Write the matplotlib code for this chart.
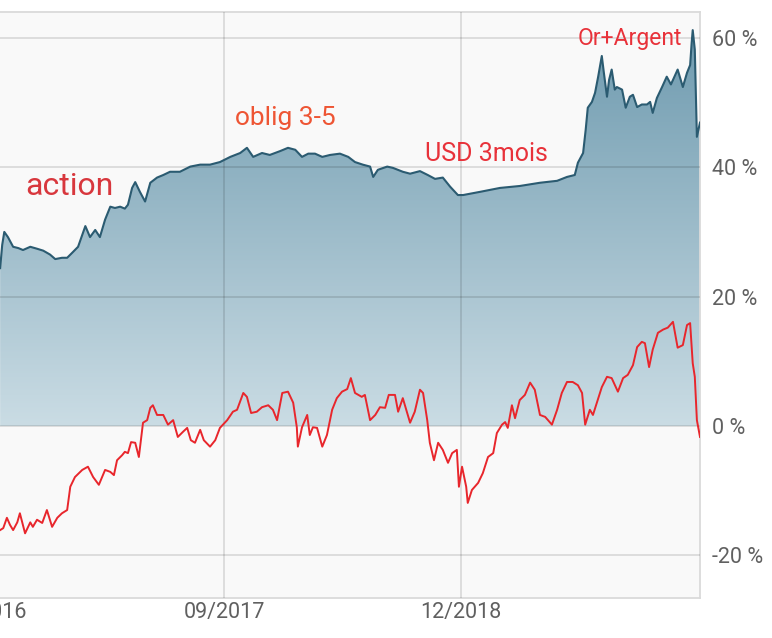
import numpy as np
import pandas as pd
import matplotlib
matplotlib.use("Agg")
import matplotlib.pyplot as plt
import matplotlib.dates as mdates
from matplotlib.colors import LinearSegmentedColormap

plt.rcParams["font.family"] = ["Roboto", "DejaVu Sans"]

# observation dates are given as days after the first point
start = pd.Timestamp("2016-06-27")

# portfolio (blue area), % performance
blue_day = [0, 4, 8, 15, 25, 35, 44, 58, 71, 83, 96, 106, 119, 129, 139, 150,
            164, 173, 183, 192, 202, 212, 221, 231, 240, 246, 254, 260, 269, 279,
            289, 302, 314, 327, 346, 366, 385, 404, 423, 443, 462, 475, 487, 504,
            519, 539, 554, 568, 581, 593, 606, 620, 635, 654, 670, 683, 698, 712,
            718, 727, 745, 756, 775, 789, 808, 823, 837, 852, 866, 881, 891, 924,
            962, 1000, 1039, 1072, 1091, 1106, 1112, 1122, 1127, 1131, 1139, 1145,
            1151, 1158, 1162, 1168, 1172, 1177, 1183, 1187, 1197, 1204, 1212, 1218,
            1226, 1235, 1245, 1251, 1256, 1264, 1274, 1283, 1291, 1295, 1304, 1314,
            1322, 1328, 1331, 1333, 1337, 1341, 1347]
blue_val = [24.4, 28.0, 30.0, 29.2, 27.7, 27.5, 27.2, 27.7, 27.4, 27.1, 26.5, 25.8,
            26.0, 26.0, 26.8, 27.7, 30.9, 29.2, 30.3, 29.2, 31.9, 33.9, 33.7, 33.9,
            33.6, 34.2, 36.8, 37.7, 36.2, 34.7, 37.6, 38.4, 38.8, 39.3, 39.3, 40.1,
            40.4, 40.4, 40.8, 41.6, 42.2, 43.0, 41.6, 42.2, 41.9, 42.5, 43.0, 42.7,
            41.6, 42.1, 42.1, 41.6, 41.9, 42.1, 41.6, 40.8, 40.4, 40.1, 38.5, 39.6,
            40.1, 39.9, 39.3, 39.0, 39.4, 38.8, 38.2, 38.4, 37.0, 35.7, 35.7, 36.2,
            36.8, 37.1, 37.6, 37.9, 38.5, 38.8, 40.7, 42.2, 45.8, 49.2, 50.1, 51.5,
            54.0, 57.2, 54.6, 50.9, 53.5, 55.1, 52.0, 52.4, 52.0, 49.2, 50.9, 51.2,
            49.3, 49.7, 49.7, 50.1, 48.4, 50.7, 52.4, 54.0, 52.8, 53.5, 55.1, 52.4,
            54.6, 55.8, 59.3, 61.2, 58.2, 44.7, 46.9]

# benchmark (red line), % performance
red_day = [0, 6, 13, 19, 25, 33, 38, 48, 58, 63, 71, 81, 90, 100, 110, 119, 129,
           135, 144, 158, 169, 179, 190, 202, 212, 219, 225, 235, 240, 246, 252,
           260, 267, 275, 283, 289, 294, 302, 314, 323, 333, 342, 352, 360, 367,
           375, 385, 392, 404, 414, 423, 437, 448, 456, 468, 475, 483, 494, 504,
           516, 525, 533, 543, 554, 564, 571, 573, 581, 591, 596, 602, 610, 620,
           629, 639, 648, 658, 668, 675, 683, 696, 702, 712, 722, 731, 741, 748,
           760, 766, 775, 789, 798, 808, 814, 822, 827, 835, 843, 852, 862, 870,
           879, 883, 889, 897, 900, 908, 920, 929, 939, 949, 956, 966, 972, 977,
           985, 991, 1000, 1010, 1020, 1029, 1039, 1049, 1062, 1072, 1081, 1091,
           1102, 1112, 1120, 1126, 1135, 1141, 1149, 1158, 1168, 1177, 1189, 1199,
           1208, 1218, 1226, 1235, 1241, 1249, 1256, 1266, 1276, 1285, 1295, 1304,
           1314, 1322, 1328, 1333, 1337, 1341, 1347]
red_val = [-16.1, -15.8, -14.2, -15.3, -16.1, -14.9, -13.5, -16.6, -14.9, -15.6,
           -14.5, -15.0, -13.0, -15.6, -14.2, -13.5, -13.0, -9.4, -7.9, -6.8, -6.3,
           -7.9, -9.1, -6.8, -7.1, -7.6, -5.3, -4.5, -4.0, -4.2, -2.5, -2.6, -4.8,
           0.5, 0.9, 2.8, 3.2, 1.7, 1.7, 0.2, 0.9, -1.7, -0.9, -0.3, -2.2, -2.6,
           -0.6, -2.2, -3.2, -2.2, -0.3, 0.9, 2.2, 2.5, 5.1, 4.5, 2.0, 2.2, 2.9,
           3.2, 2.5, 0.9, 5.1, 5.3, 3.6, -0.2, -3.2, -0.2, 1.7, -1.4, -0.2, -0.3,
           -3.2, -1.4, 2.5, 4.3, 5.3, 5.7, 7.4, 5.1, 4.5, 4.8, 0.9, 1.7, 2.9, 2.8,
           4.8, 4.8, 2.2, 4.3, 0.5, 2.2, 5.6, 5.1, 0.9, -2.6, -5.3, -2.6, -3.7,
           -5.7, -4.2, -3.7, -9.4, -6.3, -9.4, -11.9, -9.9, -8.8, -7.3, -4.8, -4.2,
           -1.1, 0.2, 0.6, -0.3, 3.2, 1.2, 4.0, 4.8, 6.7, 5.6, 1.7, 1.4, 0.2, 2.5,
           5.1, 6.8, 6.8, 6.3, 5.1, 0.2, 2.5, 1.7, 3.7, 6.0, 7.6, 7.4, 5.3, 7.4,
           7.9, 9.4, 12.2, 13.0, 12.8, 9.1, 11.8, 14.4, 14.9, 15.2, 16.1, 12.1,
           12.5, 15.6, 15.9, 9.7, 7.6, 0.9, -1.7]

x_ticks = ["2016-06-01", "2017-09-01", "2018-12-01"]
x_tick_labels = ["06/2016", "09/2017", "12/2018"]
y_ticks = [-20, 0, 20, 40, 60]
y_tick_labels = ["-20 %", "0 %", "20 %", "40 %", "60 %"]

annotations = ["action", "oblig 3-5", "USD 3mois", "Or+Argent"]

blue_dates = start + pd.to_timedelta(blue_day, unit="D")
red_dates = start + pd.to_timedelta(red_day, unit="D")

W, H = 772, 638
fig = plt.figure(figsize=(W / 100, H / 100), dpi=100)
fig.patch.set_facecolor("white")

# axes run a bit past the left edge, like the cropped screenshot
ax = fig.add_axes([-30 / W, 1 - 598 / H, 730 / W, 586 / H])
ax.set_facecolor("#f9f9f9")

x0 = start - pd.Timedelta(days=58)
x1 = start + pd.Timedelta(days=1347)
ylo, yhi = -26.6, 64.0

# gradient fill under the blue line, down to 0 %
poly = ax.fill_between(blue_dates, blue_val, 0, color="none", lw=0, zorder=1)
cmap = LinearSegmentedColormap.from_list("bl", ["#cadce4", "#6b98ad"])
grad = np.linspace(0, 1, 256).reshape(-1, 1)
im = ax.imshow(grad, cmap=cmap, origin="lower", aspect="auto",
               extent=[mdates.date2num(x0), mdates.date2num(x1), 0, yhi], zorder=1)
im.set_clip_path(poly.get_paths()[0], transform=ax.transData)

ax.plot(blue_dates, blue_val, color="#2b5b71", lw=1.5, zorder=3)
ax.plot(red_dates, red_val, color="#e8262c", lw=1.4, zorder=4)

ax.set_xlim(x0, x1)
ax.set_ylim(ylo, yhi)

ax.set_xticks(pd.to_datetime(x_ticks))
ax.set_xticklabels(x_tick_labels)
ax.set_yticks(y_ticks)
ax.set_yticklabels(y_tick_labels)
ax.yaxis.tick_right()
ax.tick_params(axis="both", length=0, labelsize=15.5, colors="#606060")
ax.tick_params(axis="y", pad=9)
ax.tick_params(axis="x", pad=3)

ax.set_axisbelow(False)
ax.grid(True, color="#000000", alpha=0.12, lw=1.3, zorder=2)

for side in ["top", "right", "bottom"]:
    ax.spines[side].set_color("#dadada")
    ax.spines[side].set_linewidth(1.3)
ax.spines["left"].set_visible(False)

# red labels written over the chart
fig.text(25 / W, 1 - 186 / H, annotations[0], fontsize=23, color="#d8373d",
         ha="left", va="center")
fig.text(235 / W, 1 - 118 / H, annotations[1], fontsize=19, color="#ee5534",
         ha="left", va="center")
fig.text(425 / W, 1 - 154 / H, annotations[2], fontsize=18, color="#e8323a",
         ha="left", va="center")
fig.text(578 / W, 1 - 38 / H, annotations[3], fontsize=16.5, color="#e8323a",
         ha="left", va="center")

fig.savefig("out.png", dpi=100)
